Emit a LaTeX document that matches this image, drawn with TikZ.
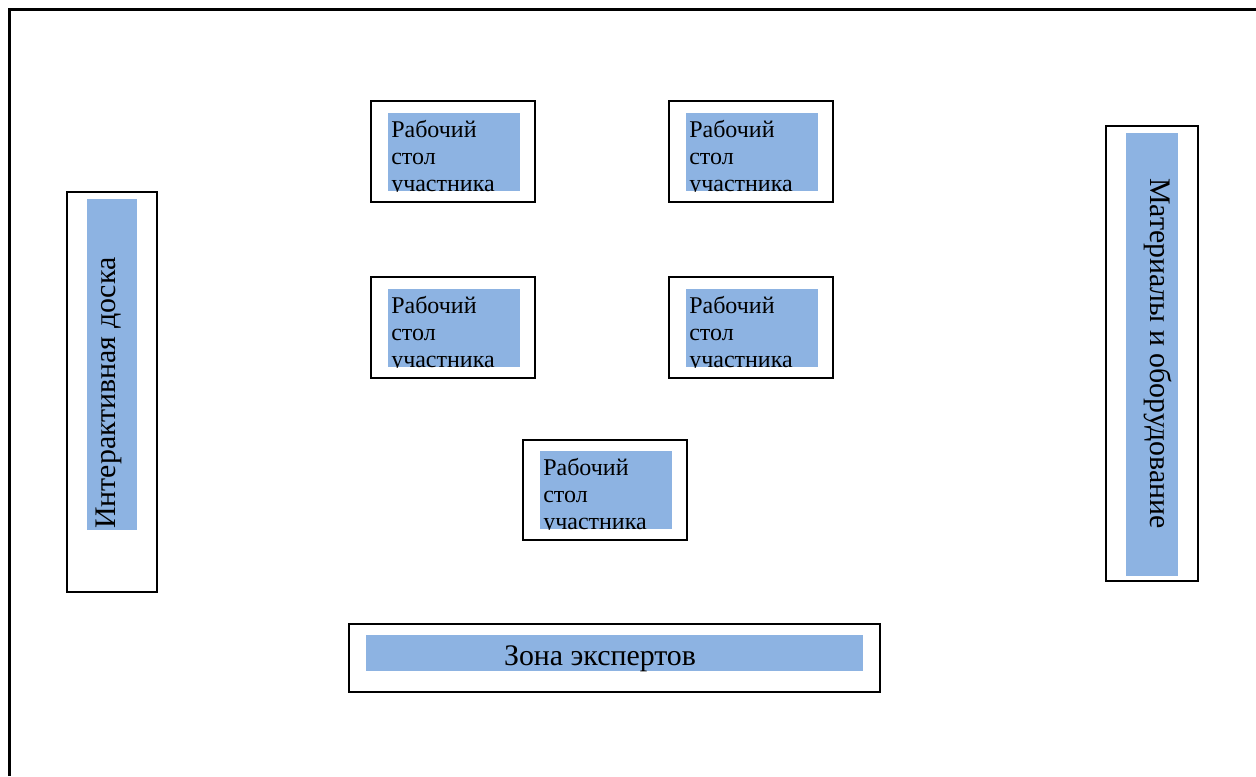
\documentclass[tikz,border=0pt]{standalone}
\usepackage{fontspec}
\setmainfont{Liberation Serif}
\definecolor{deskblue}{HTML}{8DB3E2}
\def\pxu{0.75pt}
\tikzset{
  outerbox/.style={draw=black, line width=1.5pt, fill=white, inner sep=0pt,
    minimum width=#1*\pxu},
  bluebox/.style={fill=deskblue, draw=none, inner sep=0pt},
  bigtext/.style={inner sep=0pt, font=\fontsize{22.4}{26}\selectfont},
  desktext/.style={inner sep=0pt, anchor=base west, font=\fontsize{18}{20.25}\selectfont},
  deskblue/.style={bluebox, minimum width=132*\pxu, minimum height=78*\pxu,
    path picture={\node[desktext] at ([xshift=3*\pxu,yshift=-24*\pxu]path picture bounding box.north west)
      {\parbox[t]{150pt}{\raggedright Рабочий\\стол\\участника}};}},
}
\begin{document}
\begin{tikzpicture}[x=0.75pt,y=-0.75pt]
\useasboundingbox (0,0) rectangle (1256,776);
% outer frame
\coordinate (fb) at (9,776);
\coordinate (ftl) at (9,9);
\coordinate (fr) at (1256,9);
\draw[line width=2.25pt] (fb) -- (ftl) -- (fr);

% desks
\node[outerbox=164, minimum height=101*\pxu] (d1) at (453,151.5) {};
\node[deskblue] (b1) at (454,152) {};
\node[outerbox=164, minimum height=101*\pxu] (d2) at (751,151.5) {};
\node[deskblue] (b2) at (752,152) {};
\node[outerbox=164, minimum height=101*\pxu] (d3) at (453,327.5) {};
\node[deskblue] (b3) at (454,328) {};
\node[outerbox=164, minimum height=101*\pxu] (d4) at (751,327.5) {};
\node[deskblue] (b4) at (752,328) {};
\node[outerbox=164, minimum height=100*\pxu] (d5) at (605,490) {};
\node[deskblue] (b5) at (606,490) {};

% interactive board
\node[outerbox=90, minimum height=400*\pxu] (board) at (112,392) {};
\node[bluebox, minimum width=50*\pxu, minimum height=331*\pxu] (boardblue) at (112,364.5) {};
\node[bigtext, anchor=base, rotate=90] (boardtext) at (115,393) {Интерактивная доска};

% materials
\node[outerbox=92, minimum height=455*\pxu] (mat) at (1151.5,353.5) {};
\node[bluebox, minimum width=52*\pxu, minimum height=443*\pxu] (matblue) at (1152,354.5) {};
\node[bigtext, anchor=base, rotate=-90] (mattext) at (1150,353.5) {Материалы и оборудование};

% experts
\node[outerbox=531, minimum height=68*\pxu] (exp) at (614.5,658) {};
\node[bluebox, minimum width=497*\pxu, minimum height=36*\pxu] (expblue) at (614.5,653) {};
\node[bigtext, anchor=base] (exptext) at (600,665) {Зона экспертов};
\end{tikzpicture}
\end{document}
